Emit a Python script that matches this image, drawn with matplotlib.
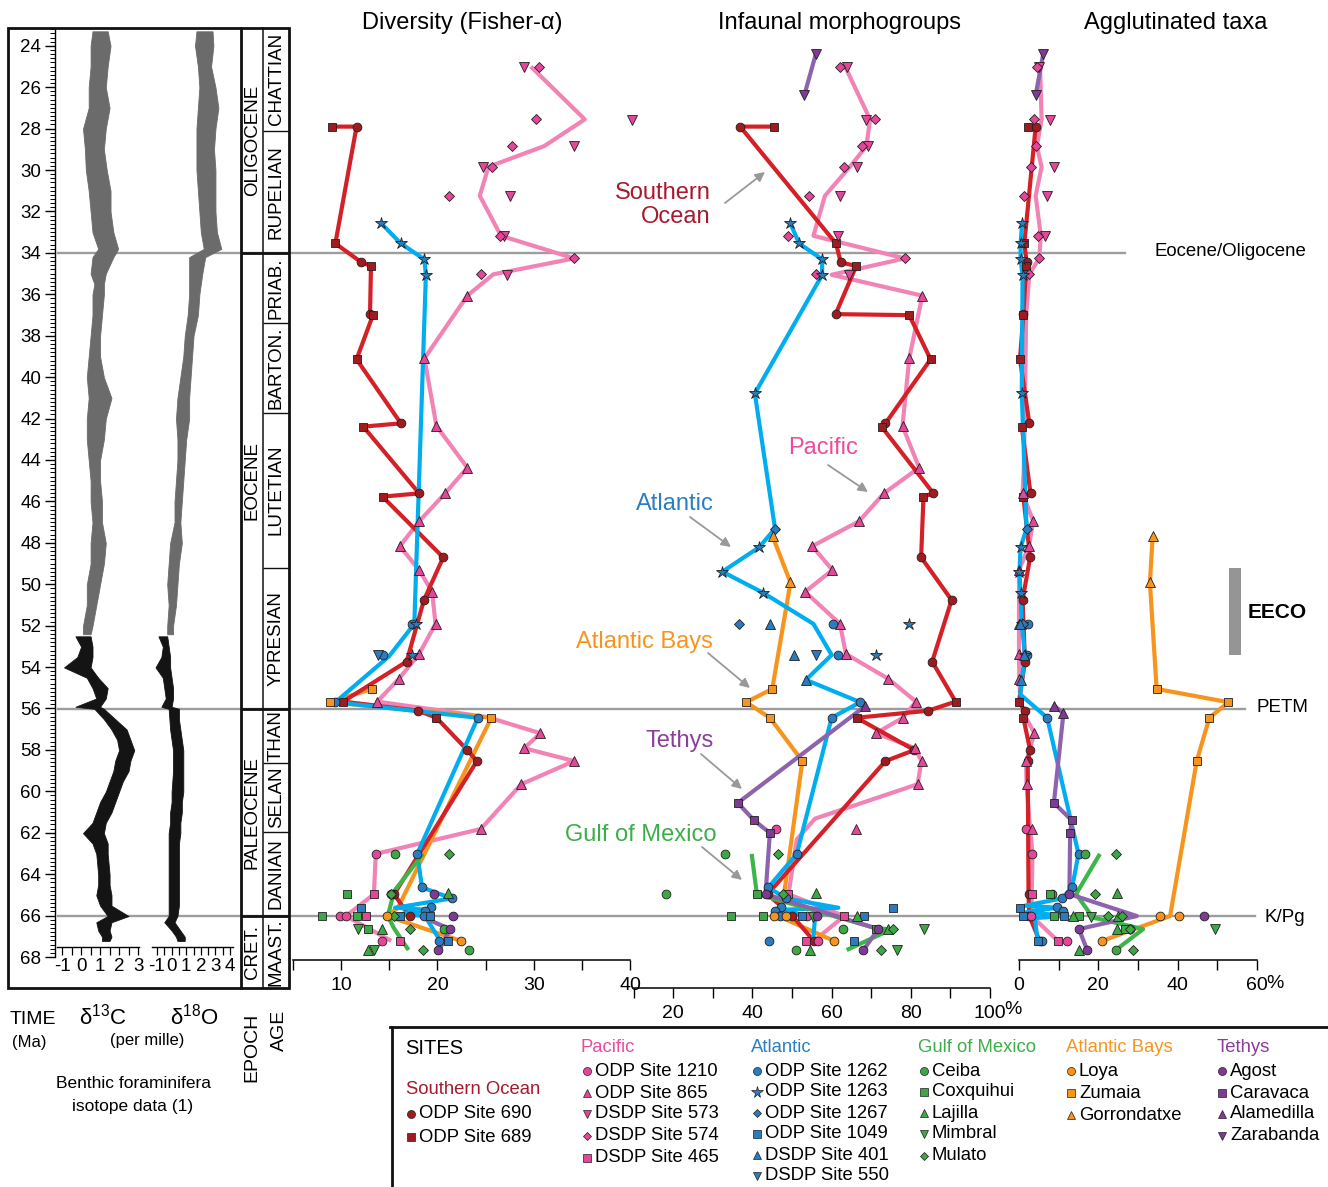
import numpy as np
import matplotlib
matplotlib.use("Agg")
import matplotlib.pyplot as plt
from matplotlib.patches import Rectangle, FancyArrowPatch
from matplotlib.lines import Line2D
from matplotlib.ticker import MultipleLocator

plt.rcParams['font.family'] = ['Liberation Sans', 'DejaVu Sans']
plt.rcParams['axes.unicode_minus'] = False
plt.rcParams['mathtext.fontset'] = 'custom'
plt.rcParams['mathtext.rm'] = 'Liberation Sans'

N = np.nan

# ---------------- benthic isotope envelopes (Ma, per mille) ----------------
iso_age = [23.3, 24, 25, 26, 27, 28, 29, 30, 31, 32, 33, 33.8, 34.2, 35, 35.5, 36, 37, 38,
           39, 40, 41, 42, 43, 44, 45, 46, 47, 48, 49, 50, 51, 52, 52.4]
d13c_lo = [0.6, 0.5, 0.5, 0.4, 0.4, 0.1, 0.2, 0.25, 0.4, 0.5, 0.6, 0.9, 0.6, 0.5, 0.7, 0.6, 0.6, 0.5,
           0.4, 0.3, 0.4, 0.3, 0.3, 0.4, 0.5, 0.5, 0.6, 0.5, 0.5, 0.3, 0.3, 0.1, 0.1]
d13c_hi = [1.4, 1.55, 1.4, 1.3, 1.5, 1.3, 1.2, 1.35, 1.55, 1.55, 1.7, 1.95, 1.7, 1.3, 1.2, 1.2, 1.1, 1.0,
           1.0, 1.2, 1.6, 1.3, 1.2, 1.0, 1.0, 1.1, 1.1, 1.3, 1.2, 1.0, 0.8, 0.6, 0.5]
d18o_lo = [1.7, 1.6, 1.8, 1.9, 1.8, 1.7, 1.7, 1.7, 1.8, 1.9, 2.0, 2.2, 1.2, 1.2, 1.2, 1.2, 1.1, 0.9,
           0.8, 0.6, 0.4, 0.3, 0.4, 0.4, 0.3, 0.2, 0.2, -0.1, -0.2, -0.3, -0.2, -0.3, -0.3]
d18o_hi = [2.8, 2.86, 2.7, 3.0, 3.2, 3.0, 2.9, 3.0, 3.0, 3.0, 3.1, 3.4, 2.3, 2.1, 2.0, 1.9, 1.8, 1.5,
           1.4, 1.3, 1.2, 1.2, 1.0, 0.9, 0.8, 0.7, 0.6, 0.7, 0.5, 0.4, 0.3, 0.1, 0.1]

iso2_age = [52.5, 53, 53.5, 54, 54.5, 55, 55.5, 55.9, 56.0, 56.5, 57, 57.5, 58, 58.5, 59, 59.5, 60,
            60.5, 61, 61.5, 62, 62.5, 63, 64, 64.5, 65, 65.5, 66, 66.3, 66.7, 67.0, 67.2]
d13c2_lo = [-0.3, 0.0, -0.2, -0.9, 0.3, 0.6, 0.8, -0.3, 0.7, 1.2, 1.6, 1.9, 2.0, 1.8, 1.7, 1.5, 1.3,
            1.0, 0.8, 0.6, 0.1, 0.6, 0.8, 0.9, 0.9, 0.8, 1.0, 1.4, 0.8, 0.9, 1.1, 1.1]
d13c2_hi = [0.5, 0.6, 0.6, 0.5, 0.9, 1.4, 1.3, 1.0, 1.2, 1.8, 2.4, 2.6, 2.8, 2.6, 2.5, 2.2, 2.0,
            1.8, 1.6, 1.3, 1.2, 1.4, 1.4, 1.5, 1.5, 1.6, 1.6, 2.5, 1.6, 1.5, 1.6, 1.5]
d18o2_lo = [-0.9, -0.6, -0.7, -1.1, -0.6, -0.5, -0.4, -0.7, -0.2, -0.15, -0.1, 0.0, 0.1, 0.1, 0.1, 0.05,
            0.0, 0.0, -0.1, -0.1, -0.2, -0.2, -0.2, -0.2, -0.2, -0.2, -0.2, -0.2, -0.5, 0.0, 0.3, 0.4]
d18o2_hi = [-0.3, -0.2, -0.1, -0.1, 0.0, 0.1, 0.1, 0.0, 0.5, 0.5, 0.6, 0.7, 0.8, 0.8, 0.8, 0.8,
            0.8, 0.7, 0.7, 0.6, 0.6, 0.5, 0.5, 0.5, 0.5, 0.5, 0.5, 0.4, 0.2, 0.6, 0.9, 0.9]

# ---------------- stratigraphy ----------------
epoch_names = ["OLIGOCENE", "EOCENE", "PALEOCENE", "CRET."]
epoch_bounds = [23.14, 34.0, 56.0, 66.0, 69.47]
stage_names = ["CHATTIAN", "RUPELIAN", "PRIAB.", "BARTON.", "LUTETIAN", "YPRESIAN",
               "THAN", "SELAN", "DANIAN", "MAAST."]
stage_bounds = [23.14, 28.1, 34.0, 37.4, 41.7, 49.2, 56.0, 58.6, 61.95, 66.0, 69.47]

# ---------------- site records: age (Ma), Fisher-alpha, % infaunal, % agglutinated ----------------
# Southern Ocean
odp690_age = [27.9, 34.45, 36.95, 42.22, 45.6, 48.69, 50.75, 53.72, 56.09, 57.99, 58.52, 64.95, 66.0, 67.2]
odp690_div = [11.6, 12.1, 13.0, 16.2, 18.1, 20.6, 18.6, 16.8, 18.0, 23.1, 24.1, 15.5, 17.1, N]
odp690_inf = [36.9, 62.3, 61.0, 73.6, 85.7, 82.6, 90.3, 85.4, 84.4, 80.9, 73.6, 43.8, 50.1, 55.5]
odp690_agg = [4.2, 1.9, 1.1, 2.6, 2.9, 2.8, 0.9, 1.5, 1.4, 2.8, 2.2, 2.4, 2.6, 5.2]
odp689_age = [27.9, 33.54, 34.63, 37.0, 39.13, 42.38, 45.76, 55.65, 56.43]
odp689_div = [9.05, 9.4, 13.1, 13.3, 11.6, 12.3, 14.3, 10.2, 19.9]
odp689_inf = [45.4, 61.1, 66.2, 79.6, 85.0, 72.6, 83.2, 91.3, 66.3]
odp689_agg = [2.2, 1.35, 1.8, 1.1, 0.25, 0.7, 1.1, 0.0, 1.1]

# Pacific
odp1210_age = [61.8, 63.0, 66.0, 66.0, 67.2]
odp1210_div = [N, 13.6, 9.9, 10.5, 14.2]
odp1210_inf = [45.9, N, 53.8, N, 56.6]
odp1210_agg = [1.8, 3.4, 3.0, N, 12.2]
odp865_age = [36.06, 39.09, 42.35, 44.36, 45.6, 46.95, 48.15, 49.3, 50.35, 51.9, 53.35, 54.55, 55.65,
              56.43, 57.18, 57.9, 58.52, 59.64, 61.8]
odp865_div = [23.1, 18.65, 19.9, 23.1, 20.8, 18.1, 16.1, 18.1, 19.45, 19.8, 18.1, 16.0, 13.75,
              N, 30.7, 29.0, 34.2, 28.7, 24.5]
odp865_inf = [82.9, 79.6, 77.9, 82.1, 73.2, 66.9, 55.1, 60.2, 53.3, 62.1, 63.6, 74.3, 81.3,
              78.0, 71.2, 81.1, 82.7, 81.7, 66.1]
odp865_agg = [N, N, N, N, 0.9, 3.6, 2.5, 0.0, N, 0.0, 0.0, 0.1, N, N, 3.9, N, 1.8, 1.9, 3.4]
dsdp573_age = [25.0, 27.58, 28.84, 29.84, 31.26, 33.2, 35.08]
dsdp573_div = [28.95, 40.2, 34.2, 24.7, 27.5, 26.9, 27.2]
dsdp573_inf = [64.0, 68.7, 69.3, 66.5, 62.1, 61.7, 64.4]
dsdp573_agg = [5.1, 7.7, N, 8.7, 7.1, 6.6, N]
dsdp574_age = [25.0, 27.55, 28.84, 29.84, 31.24, 33.17, 34.26, 35.03]
dsdp574_div = [30.5, 30.2, 27.7, 25.7, 21.2, 26.5, 34.2, 24.5]
dsdp574_inf = [62.1, 71.0, 67.6, 63.2, 54.3, 48.9, 78.5, 56.0]
dsdp574_agg = [4.45, 3.9, 4.2, 2.9, 1.35, 4.9, 5.1, 2.6]
dsdp465_age = [64.95, 66.0, 67.2]
dsdp465_div = [13.4, 12.6, 16.1]
dsdp465_inf = [49.1, 63.2, 53.5]
dsdp465_agg = [3.4, N, 9.8]

# Atlantic
odp1262_age = [51.9, 53.38, 55.68, 56.43, 63.0, 64.62, 65.15, 65.55, 65.75, 66.0, 67.2]
odp1262_div = [17.4, 14.3, 9.4, 24.2, 17.9, 18.4, 21.5, 19.3, 18.7, 18.65, 20.2]
odp1262_inf = [60.4, 61.7, 67.2, 60.0, 51.2, 44.0, 48.5, 47.2, 45.7, 46.9, 44.2]
odp1262_agg = [2.2, 1.9, N, 7.1, 15.1, 13.4, 10.8, 9.5, 11.0, N, 5.9]
odp1263_age = [32.54, 33.54, 34.31, 35.06, 40.78, 48.2, 49.38, 50.4, 51.9, 53.38]
odp1263_div = [14.1, 16.2, 18.65, 18.8, N, N, N, N, 17.8, 17.4]
odp1263_inf = [49.5, 51.8, 57.6, 57.6, 40.6, 41.7, 32.4, 42.7, 79.6, 71.2]
odp1263_agg = [0.8, 0.4, 0.4, 0.9, 0.7, 0.4, 0.1, 0.4, 0.7, 1.5]
odp1267_age = [47.3, 51.9]
odp1267_div = [N, N]
odp1267_inf = [45.7, 36.7]
odp1267_agg = [1.9, 1.0]
odp1049_age = [65.6, 66.0, 66.0, 67.2]
odp1049_div = [12.1, 16.1, 19.2, 21.1]
odp1049_inf = [75.4, 52.4, 68.2, 65.7]
odp1049_agg = [0.25, 1.1, 11.3, 4.7]
dsdp401_age = [51.9, 53.38, 54.6]
dsdp401_div = [N, N, N]
dsdp401_inf = [44.4, 50.6, 53.5]
dsdp401_agg = [0.2, 1.2, 0.4]
dsdp550_age = [53.4]
dsdp550_div = [13.8]
dsdp550_inf = [56.0]
dsdp550_agg = [N]

# Gulf of Mexico
ceiba_age = [63.0, 64.95, 66.63, 67.64]
ceiba_div = [15.6, 15.2, 20.7, 23.3]
ceiba_inf = [33.1, 18.2, 62.9, 50.9]
ceiba_agg = [16.6, 8.3, 28.0, 24.4]
coxquihui_age = [64.95, 66.0, 66.0, 66.63]
coxquihui_div = [10.6, 8.05, 11.6, 12.8]
coxquihui_inf = [41.1, 34.5, 42.7, 71.1]
coxquihui_agg = [7.8, 8.7, 15.2, 26.6]
lajilla_age = [64.9, 66.0, 66.0, 66.63, 67.64]
lajilla_div = [21.1, N, N, 14.2, 12.8]
lajilla_inf = [56.0, 66.3, N, 74.3, 54.5]
lajilla_agg = [24.6, 13.7, 25.0, 24.6, 15.0]
mimbral_age = [66.03, 66.63, 67.64]
mimbral_div = [N, 11.8, 13.4]
mimbral_inf = [55.4, 83.4, 76.4]
mimbral_agg = [18.1, 49.4, N]
mulato_age = [63.0, 64.95, 66.0, 66.0, 66.63, 67.64]
mulato_div = [21.2, 15.2, 15.5, N, 17.2, 18.5]
mulato_inf = [46.5, 47.8, N, N, 75.4, 72.5]
mulato_agg = [24.4, 19.2, 22.5, 26.0, 28.0, 28.8]

# Atlantic Bays
loya_age = [66.0, 66.0, 67.2]
loya_div = [14.75, N, 22.45]
loya_inf = [45.4, 48.5, 60.6]
loya_agg = [35.5, 40.3, 21.0]
zumaia_age = [55.04, 55.68, 56.43, 58.52]
zumaia_div = [13.2, 8.8, 25.6, N]
zumaia_inf = [45.0, 38.4, 44.4, 52.6]
zumaia_agg = [34.7, 52.8, 48.0, 44.8]
gorrondatxe_age = [47.68, 49.9]
gorrondatxe_div = [N, N]
gorrondatxe_inf = [45.1, 49.6]
gorrondatxe_agg = [33.7, 33.0]

# Tethys
agost_age = [64.94, 66.0, 66.63, 67.64]
agost_div = [19.6, 21.6, 21.3, 20.1]
agost_inf = [43.3, 56.4, 71.8, 68.0]
agost_agg = [12.7, 46.6, 15.1, 17.2]
caravaca_age = [60.54, 61.38, 61.99]
caravaca_div = [N, N, N]
caravaca_inf = [36.3, 40.4, 44.4]
caravaca_agg = [8.8, 13.3, 12.9]
alamedilla_age = [55.87, 56.22]
alamedilla_div = [N, N]
alamedilla_inf = [68.4, N]
alamedilla_agg = [8.9, 11.2]
zarabanda_age = [24.4, 26.38]
zarabanda_div = [N, N]
zarabanda_inf = [56.0, 53.1]
zarabanda_agg = [6.1, 4.2]

# ---------------- regional trends (value, age); (N, N) breaks a line ----------------
pacific_div_trend = [(29.7, 25.0), (35.3, 27.55), (31.1, 28.84), (25.3, 29.84), (24.4, 31.24), (26.6, 33.17),
                     (34.2, 34.26), (25.8, 35.03), (23.1, 36.06), (18.65, 39.09), (19.9, 42.35), (23.1, 44.36),
                     (20.8, 45.6), (18.1, 46.95), (16.1, 48.15), (18.1, 49.3), (19.45, 50.35), (19.8, 51.9),
                     (18.1, 53.35), (16.0, 54.55), (13.75, 55.65), (25.2, 56.4), (30.7, 57.18), (29.0, 57.9),
                     (34.2, 58.52), (28.7, 59.64), (24.5, 61.8), (13.6, 63.0), (13.4, 64.95), (10.5, 66.0),
                     (15.2, 67.2)]
pacific_inf_trend = [(63.4, 25.0), (69.7, 27.55), (68.8, 28.84), (64.6, 29.84), (58.3, 31.24), (55.4, 33.17),
                     (78.5, 34.26), (60.0, 35.05), (82.9, 36.06), (79.6, 39.09), (77.9, 42.35), (82.1, 44.36),
                     (73.2, 45.6), (66.9, 46.95), (55.1, 48.15), (60.2, 49.3), (53.3, 50.35), (62.1, 51.9),
                     (63.6, 53.35), (74.3, 54.55), (81.3, 55.65), (78.0, 56.43), (71.2, 57.18), (81.1, 57.9),
                     (82.7, 58.52), (81.7, 59.64), (55.8, 61.3), (51.2, 62.3), (49.1, 64.95), (63.2, 66.0),
                     (55.5, 67.2)]
pacific_agg_trend = [(5.3, 25.0), (5.7, 27.55), (4.5, 28.84), (5.7, 29.84), (4.2, 31.24), (5.5, 33.17),
                     (5.1, 34.26), (2.6, 35.03), (1.8, 37.0), (1.5, 41.0), (1.2, 44.5), (0.9, 45.6), (3.6, 46.95),
                     (2.5, 48.15), (0.0, 49.3), (0.0, 51.9), (0.0, 53.35), (0.1, 54.55), (0.3, 55.5), (1.1, 56.2),
                     (3.9, 57.18), (1.8, 58.52), (1.9, 59.64), (2.8, 61.8), (3.4, 63.0), (3.2, 64.95), (3.2, 66.0),
                     (9.8, 67.2)]
atlantic_div_trend = [(14.1, 32.54), (16.2, 33.54), (18.65, 34.31), (18.8, 35.06), (17.6, 51.9), (15.0, 53.45),
                      (9.4, 55.68), (24.2, 56.43), (17.9, 63.0), (18.4, 64.62), (21.5, 65.15), (15.6, 65.6),
                      (19.0, 65.7), (16.3, 65.9), (18.7, 66.0), (20.3, 67.2)]
atlantic_inf_trend = [(49.5, 32.54), (51.8, 33.54), (57.6, 34.31), (57.6, 35.06), (40.6, 40.78), (45.7, 47.3),
                      (41.7, 48.2), (32.4, 49.38), (42.7, 50.4), (55.4, 51.9), (60.0, 53.4), (53.5, 54.6),
                      (67.2, 55.68), (60.0, 56.43), (51.2, 63.0), (44.0, 64.62), (48.5, 65.15), (61.7, 65.6),
                      (47.2, 65.7), (55.8, 66.1), (55.3, 67.2)]
atlantic_agg_trend = [(0.8, 32.54), (0.4, 33.54), (0.4, 34.31), (0.9, 35.06), (0.7, 40.78), (1.9, 47.3),
                      (0.4, 48.2), (0.1, 49.38), (0.4, 50.4), (0.7, 51.9), (1.5, 53.38), (0.3, 55.3), (7.1, 56.43),
                      (15.0, 63.0), (13.4, 64.62), (10.8, 65.15), (1.5, 65.5), (9.5, 65.6), (2.0, 65.8),
                      (11.3, 66.0), (4.0, 66.1), (4.7, 67.2)]
gulf_div_trend = [(18.5, 63.0), (15.5, 64.8), (14.85, 66.0), (15.5, 66.6), (17.0, 67.64)]
gulf_inf_trend = [(39.8, 63.0), (41.1, 64.93), (71.4, 66.6), (75.2, 66.63), (63.8, 67.64)]
gulf_agg_trend = [(20.4, 63.0), (14.4, 64.94), (18.6, 66.07), (31.3, 66.63), (24.4, 67.64)]
bays_div_trend = [(13.2, 55.04), (8.8, 55.68), (25.6, 56.43), (15.9, 65.6), (14.75, 66.0), (22.45, 67.2)]
bays_inf_trend = [(45.1, 47.68), (49.6, 49.9), (45.0, 55.04), (38.4, 55.68), (44.4, 56.43), (52.6, 58.52),
                  (47.8, 65.2), (46.5, 66.0), (60.6, 67.2)]
bays_agg_trend = [(33.7, 47.68), (33.0, 49.9), (34.7, 55.04), (52.8, 55.68), (48.0, 56.43), (44.8, 58.52),
                  (38.1, 66.0), (21.0, 67.2)]
tethys_div_trend = [(18.7, 66.1), (21.3, 66.63), (20.2, 67.64)]
tethys_inf_trend = [(56.0, 24.4), (53.1, 26.38), (N, N), (68.4, 55.88), (36.3, 60.54), (40.4, 61.38),
                    (44.4, 61.99), (43.3, 64.94), (71.8, 66.63), (68.0, 67.64)]
tethys_agg_trend = [(6.1, 24.4), (4.2, 26.38), (N, N), (8.9, 55.85), (11.2, 56.22), (8.8, 60.54), (13.3, 61.38),
                    (12.9, 61.99), (12.7, 64.94), (29.7, 66.0), (15.1, 66.63), (17.2, 67.64)]

# ---------------- colours ----------------
so_line, so_face, so_text = '#D42027', '#9E1B20', '#A6192E'
pac_line, pac_face, pac_text = '#F283B5', '#E4469A', '#EC4C9B'
atl_line, atl_face, atl_text = '#00AEEF', '#2A7BC0', '#2B7EC1'
gulf_line, gulf_face, gulf_text = '#3DB54A', '#3BA845', '#3DAE49'
bays_line, bays_face, bays_text = '#F7941D', '#F7941D', '#F7941D'
teth_line, teth_face, teth_text = '#8E63AD', '#7E3A96', '#8B3F98'

W, H = 1328, 1187
fig = plt.figure(figsize=(W / 100, H / 100), dpi=100)


def age_at(y):
    return 34.0 + (y - 253.0) / 20.72


def y_at(age):
    return 253.0 + (age - 34.0) * 20.72


def fxy(x, y):
    return x / W, 1 - y / H


def px_axes(x0, y0, x1, y1):
    ax = fig.add_axes([x0 / W, 1 - y1 / H, (x1 - x0) / W, (y1 - y0) / H])
    ax.set_ylim(age_at(y1), age_at(y0))
    ax.patch.set_visible(False)
    for s in ax.spines.values():
        s.set_visible(False)
    ax.set_yticks([])
    return ax


def fig_line(xs, ys, **kw):
    fig.add_artist(Line2D([x / W for x in xs], [1 - y / H for y in ys],
                          transform=fig.transFigure, **kw))


# ---------------- event lines across the figure ----------------
for age, xend in [(34.0, 1125), (56.0, 1245), (66.0, 1255)]:
    fig_line([58, xend], [y_at(age), y_at(age)], color='#9d9d9d', lw=1.7, zorder=-1)

# ---------------- left block: time scale, isotopes, stratigraphy ----------------
fig.add_artist(Rectangle(fxy(8, 988), 281 / W, 960 / H, fill=False, lw=2.0,
                         edgecolor='#111111', transform=fig.transFigure, zorder=5))

ax_t = px_axes(55, 28, 56, 957)
ax_t.spines['left'].set_visible(True)
ax_t.spines['left'].set_linewidth(1.0)
ax_t.set_xticks([])
ax_t.yaxis.set_major_locator(MultipleLocator(2))
ax_t.yaxis.set_minor_locator(MultipleLocator(0.2))
ax_t.tick_params(axis='y', which='major', length=7, width=1.0, labelsize=13.5, pad=3)
ax_t.tick_params(axis='y', which='minor', length=3.5, width=0.7)
ax_t.set_yticks(np.arange(24, 69, 2))
ax_t.set_yticklabels([str(v) for v in range(24, 69, 2)])


def iso_axes(x0, x1, xlim, lo, hi, lo2, hi2):
    ax = px_axes(x0, 28, x1, 947)
    ax.set_xlim(*xlim)
    ax.spines['bottom'].set_visible(True)
    ax.spines['bottom'].set_linewidth(1.0)
    ax.xaxis.set_major_locator(MultipleLocator(1))
    ax.xaxis.set_minor_locator(MultipleLocator(0.5))
    ax.tick_params(axis='x', which='both', length=6, width=0.9, direction='out')
    ax.tick_params(axis='x', which='major', labelsize=13.5, pad=2)
    ax.fill_betweenx(iso_age, lo, hi, color='#6b6b6b', lw=0.6, edgecolor='#6b6b6b')
    ax.fill_betweenx(iso2_age, lo2, hi2, color='#141414', lw=0.6, edgecolor='#141414')
    return ax


ax_c = iso_axes(57, 139, (-1.27, 3.05), d13c_lo, d13c_hi, d13c2_lo, d13c2_hi)
ax_c.set_xticks([-1, 0, 1, 2, 3])
ax_o = iso_axes(152, 233, (-1.34, 4.2), d18o_lo, d18o_hi, d18o2_lo, d18o2_hi)
ax_o.set_xticks([-1, 0, 1, 2, 3, 4])

ax_s = px_axes(241, 28, 289, 988)
ax_s.set_xlim(0, 48)
ax_s.set_xticks([])
ax_s.plot([0, 0], [epoch_bounds[0], epoch_bounds[-1]], color='#111111', lw=2.0, clip_on=False)
ax_s.plot([22, 22], [epoch_bounds[0], epoch_bounds[-1]], color='#111111', lw=1.1, clip_on=False)
for b in epoch_bounds[1:-1]:
    ax_s.plot([0, 48], [b, b], color='#111111', lw=2.0, clip_on=False, solid_capstyle='butt')
for b in stage_bounds[1:-1]:
    if b not in epoch_bounds:
        ax_s.plot([22, 48], [b, b], color='#111111', lw=1.0, clip_on=False, solid_capstyle='butt')
for name, a0, a1 in zip(epoch_names, epoch_bounds[:-1], epoch_bounds[1:]):
    ax_s.text(11.5, (a0 + a1) / 2, name, rotation=90, ha='center', va='center', fontsize=13.5)
for name, a0, a1 in zip(stage_names, stage_bounds[:-1], stage_bounds[1:]):
    ax_s.text(35.5, (a0 + a1) / 2, name, rotation=90, ha='center', va='center', fontsize=13.5)

# labels under the left block
fig.text(*fxy(10, 1019), "TIME", ha='left', va='center', fontsize=14)
fig.text(*fxy(12, 1042), "(Ma)", ha='left', va='center', fontsize=12)
fig.text(*fxy(103, 1017), r"δ$^{13}$C", ha='center', va='center', fontsize=16)
fig.text(*fxy(194, 1017), r"δ$^{18}$O", ha='center', va='center', fontsize=16)
fig.text(*fxy(147, 1040), "(per mille)", ha='center', va='center', fontsize=12)
fig.text(*fxy(252, 1047), "EPOCH", rotation=90, ha='center', va='center', fontsize=14)
fig.text(*fxy(279, 1030), "AGE", rotation=90, ha='center', va='center', fontsize=14)
fig.text(*fxy(133, 1084), "Benthic foraminifera", ha='center', va='center', fontsize=12.5)
fig.text(*fxy(133, 1106), "isotope data (1)", ha='center', va='center', fontsize=12.5)

# ---------------- data panels ----------------


def data_axes(x0, x1, ybot, xlim, major, minor):
    ax = px_axes(x0, 28, x1, ybot)
    ax.set_xlim(*xlim)
    ax.spines['bottom'].set_visible(True)
    ax.spines['bottom'].set_linewidth(1.1)
    ax.set_xticks(major)
    ax.set_xticks(minor, minor=True)
    ax.tick_params(axis='x', which='both', length=7, width=1.0, direction='out')
    ax.tick_params(axis='x', which='major', labelsize=14, pad=5)
    return ax


ax_d = data_axes(293, 630, 960, (5, 40), [10, 20, 30, 40], [5, 15, 25, 35])
ax_i = data_axes(633.7, 990, 988, (10, 100), [20, 40, 60, 80, 100], [10, 30, 50, 70, 90])
ax_a = data_axes(1019, 1257, 960, (0, 60), [0, 20, 40, 60], [10, 30, 50])
fig.text(*fxy(1004.5, 1010), "%", ha='left', va='center', fontsize=14)
fig.text(*fxy(1266.5, 983), "%", ha='left', va='center', fontsize=14)

fig.text(*fxy(462, 23), "Diversity (Fisher-α)", ha='center', va='center', fontsize=17)
fig.text(*fxy(840, 23), "Infaunal morphogroups", ha='center', va='center', fontsize=17)
fig.text(*fxy(1176, 23), "Agglutinated taxa", ha='center', va='center', fontsize=17)


def draw_trend(ax, trend, color, z):
    v = [p[0] for p in trend]
    a = [p[1] for p in trend]
    ax.plot(v, a, color=color, lw=3.0, solid_joinstyle='round', solid_capstyle='butt',
            clip_on=False, zorder=z)


def so_trend(col):
    # Southern Ocean line joins both sites in age order
    pts = [(a, 0, v) for a, v in zip(odp689_age, col[0])] + [(a, 1, v) for a, v in zip(odp690_age, col[1])]
    pts = sorted(p for p in pts if not np.isnan(p[2]))
    return [(p[2], p[0]) for p in pts]


panels = [
    (ax_d, [pacific_div_trend, bays_div_trend, so_trend((odp689_div, odp690_div)), atlantic_div_trend,
            gulf_div_trend, tethys_div_trend]),
    (ax_i, [pacific_inf_trend, bays_inf_trend, so_trend((odp689_inf, odp690_inf)), atlantic_inf_trend,
            gulf_inf_trend, tethys_inf_trend]),
    (ax_a, [pacific_agg_trend, bays_agg_trend, so_trend((odp689_agg, odp690_agg)), atlantic_agg_trend,
            gulf_agg_trend, tethys_agg_trend]),
]
line_colors = [pac_line, bays_line, so_line, atl_line, gulf_line, teth_line]

sites = [
    (odp690_age, (odp690_div, odp690_inf, odp690_agg), 'o', so_face),
    (odp689_age, (odp689_div, odp689_inf, odp689_agg), 's', so_face),
    (odp1210_age, (odp1210_div, odp1210_inf, odp1210_agg), 'o', pac_face),
    (odp865_age, (odp865_div, odp865_inf, odp865_agg), '^', pac_face),
    (dsdp573_age, (dsdp573_div, dsdp573_inf, dsdp573_agg), 'v', pac_face),
    (dsdp574_age, (dsdp574_div, dsdp574_inf, dsdp574_agg), 'D', pac_face),
    (dsdp465_age, (dsdp465_div, dsdp465_inf, dsdp465_agg), 's', pac_face),
    (odp1262_age, (odp1262_div, odp1262_inf, odp1262_agg), 'o', atl_face),
    (odp1263_age, (odp1263_div, odp1263_inf, odp1263_agg), '*', atl_face),
    (odp1267_age, (odp1267_div, odp1267_inf, odp1267_agg), 'D', atl_face),
    (odp1049_age, (odp1049_div, odp1049_inf, odp1049_agg), 's', atl_face),
    (dsdp401_age, (dsdp401_div, dsdp401_inf, dsdp401_agg), '^', atl_face),
    (dsdp550_age, (dsdp550_div, dsdp550_inf, dsdp550_agg), 'v', atl_face),
    (ceiba_age, (ceiba_div, ceiba_inf, ceiba_agg), 'o', gulf_face),
    (coxquihui_age, (coxquihui_div, coxquihui_inf, coxquihui_agg), 's', gulf_face),
    (lajilla_age, (lajilla_div, lajilla_inf, lajilla_agg), '^', gulf_face),
    (mimbral_age, (mimbral_div, mimbral_inf, mimbral_agg), 'v', gulf_face),
    (mulato_age, (mulato_div, mulato_inf, mulato_agg), 'D', gulf_face),
    (loya_age, (loya_div, loya_inf, loya_agg), 'o', bays_face),
    (zumaia_age, (zumaia_div, zumaia_inf, zumaia_agg), 's', bays_face),
    (gorrondatxe_age, (gorrondatxe_div, gorrondatxe_inf, gorrondatxe_agg), '^', bays_face),
    (agost_age, (agost_div, agost_inf, agost_agg), 'o', teth_face),
    (caravaca_age, (caravaca_div, caravaca_inf, caravaca_agg), 's', teth_face),
    (alamedilla_age, (alamedilla_div, alamedilla_inf, alamedilla_agg), '^', teth_face),
    (zarabanda_age, (zarabanda_div, zarabanda_inf, zarabanda_agg), 'v', teth_face),
]
marker_size = {'o': 6.3, 's': 6.2, '^': 6.8, 'v': 6.8, 'D': 4.8, '*': 9.0}

for k, (ax, trends) in enumerate(panels):
    for z, (tr, col) in enumerate(zip(trends, line_colors)):
        draw_trend(ax, tr, col, 2 + z * 0.1)
    for ages, vals, mk, face in sites:
        ax.plot(vals[k], ages, ls='none', marker=mk, ms=marker_size[mk], mfc=face,
                mec='#231f20', mew=0.6, clip_on=False, zorder=4)

# EECO interval
ax_a.add_patch(Rectangle((52.9, 49.2), 3.0, 4.2, color='#959595', lw=0, clip_on=False))
fig.text(*fxy(1248, 613), "EECO", ha='left', va='center', fontsize=15, fontweight='bold')
fig.text(*fxy(1155, 252), "Eocene/Oligocene", ha='left', va='center', fontsize=13.4)
fig.text(*fxy(1257, 708), "PETM", ha='left', va='center', fontsize=13.5)
fig.text(*fxy(1265, 917), "K/Pg", ha='left', va='center', fontsize=13.5)

# region labels with pointers in the infaunal panel
region_notes = [
    ("Southern\nOcean", (711, 205), 'right', so_text, (725, 203), (765, 172)),
    ("Pacific", (823, 448), 'center', pac_text, (828, 465), (868, 492)),
    ("Atlantic", (675, 504), 'center', atl_text, (690, 517), (731, 547)),
    ("Atlantic Bays", (644, 642), 'center', bays_text, (708, 653), (750, 688)),
    ("Tethys", (680, 741), 'center', teth_text, (701, 754), (742, 789)),
    ("Gulf of Mexico", (641, 835), 'center', gulf_text, (702, 847), (742, 880)),
]
for txt, pos, ha, col, p0, p1 in region_notes:
    fig.text(*fxy(*pos), txt, ha=ha, va='center', fontsize=17, color=col, linespacing=1.15,
             multialignment='right')
    fig.add_artist(FancyArrowPatch(fxy(*p0), fxy(*p1), transform=fig.transFigure,
                                   arrowstyle='-|>', mutation_scale=14, color='#999999',
                                   lw=1.3, shrinkA=0, shrinkB=0))

# ---------------- sites key ----------------
fig_line([390, 1328], [1027, 1027], color='#111111', lw=2.0)
fig_line([392, 392], [1027, 1187], color='#111111', lw=2.0)
fig.text(*fxy(405, 1049), "SITES", ha='left', va='center', fontsize=14.5)

key_groups = [
    ("Southern Ocean", so_text, so_face, (406, 1090), 411, [1114, 1137],
     ["ODP Site 690", "ODP Site 689"], ['o', 's']),
    ("Pacific", pac_text, pac_face, (580, 1047), 587, [1071, 1093, 1114, 1136, 1158],
     ["ODP Site 1210", "ODP Site 865", "DSDP Site 573", "DSDP Site 574", "DSDP Site 465"],
     ['o', '^', 'v', 'D', 's']),
    ("Atlantic", atl_text, atl_face, (751, 1047), 757, [1071, 1092, 1113, 1134, 1155, 1176],
     ["ODP Site 1262", "ODP Site 1263", "ODP Site 1267", "ODP Site 1049", "DSDP Site 401", "DSDP Site 550"],
     ['o', '*', 'D', 's', '^', 'v']),
    ("Gulf of Mexico", gulf_text, gulf_face, (918, 1047), 924, [1071, 1092, 1113, 1134, 1156],
     ["Ceiba", "Coxquihui", "Lajilla", "Mimbral", "Mulato"], ['o', 's', '^', 'v', 'D']),
    ("Atlantic Bays", bays_text, bays_face, (1066, 1047), 1071, [1071, 1093, 1115],
     ["Loya", "Zumaia", "Gorrondatxe"], ['o', 's', '^']),
    ("Tethys", teth_text, teth_face, (1217, 1047), 1222, [1071, 1093, 1114, 1136],
     ["Agost", "Caravaca", "Alamedilla", "Zarabanda"], ['o', 's', '^', 'v']),
]
key_ms = {'o': 5.8, 's': 5.6, '^': 6.3, 'v': 6.3, 'D': 4.5, '*': 8.4}
for head, tcol, face, hpos, mx, ys, names, mks in key_groups:
    fig.text(*fxy(*hpos), head, ha='left', va='center', fontsize=13.3, color=tcol)
    for yy, name, mk in zip(ys, names, mks):
        fig.add_artist(Line2D([mx / W], [1 - yy / H], marker=mk, ms=key_ms[mk], mfc=face,
                              mec='#231f20', mew=0.5, ls='none', transform=fig.transFigure))
        fig.text(*fxy(mx + 8, yy), name, ha='left', va='center', fontsize=13.3)

fig.savefig("out.png", dpi=100)
